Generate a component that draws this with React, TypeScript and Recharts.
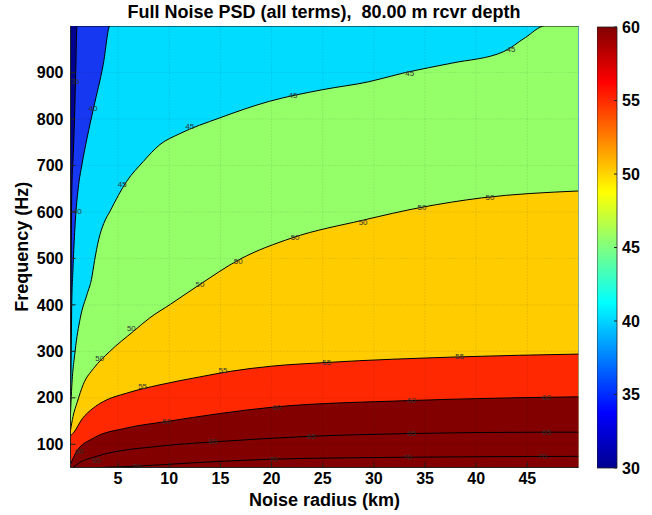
import {
  ComposedChart,
  Area,
  Line,
  Scatter,
  XAxis,
  YAxis,
  CartesianGrid,
  ReferenceLine,
  BarChart,
  Bar,
} from 'recharts'

// axis ticks
const X_TICKS = [5, 10, 15, 20, 25, 30, 35, 40, 45]
const Y_TICKS = [100, 200, 300, 400, 500, 600, 700, 800, 900]
const CB_TICKS = [30, 35, 40, 45, 50, 55, 60]

// contour lines, radius (km) -> frequency (Hz)
const c35 = [
  { x: 0.35, f: 250 }, { x: 0.38, f: 300 }, { x: 0.42, f: 508 }, { x: 0.48, f: 650 },
  { x: 0.62, f: 724 }, { x: 0.78, f: 831 }, { x: 0.88, f: 920 }, { x: 0.98, f: 1000 },
  { x: 50, f: 1000 },
]
const c40 = [
  { x: 0.35, f: 195 }, { x: 0.4, f: 260 }, { x: 0.47, f: 400 }, { x: 0.58, f: 470 },
  { x: 0.65, f: 508 }, { x: 0.82, f: 580 }, { x: 1.1, f: 650 }, { x: 1.47, f: 702 },
  { x: 1.96, f: 758 }, { x: 2.6, f: 823 }, { x: 3.55, f: 917 }, { x: 4.2, f: 1000 },
  { x: 50, f: 1000 },
]
const c45 = [
  { x: 0.35, f: 165 }, { x: 0.45, f: 214 }, { x: 0.8, f: 300 }, { x: 1.3, f: 371 },
  { x: 2.0, f: 425 }, { x: 2.4, f: 455 }, { x: 2.7, f: 495 }, { x: 3.1, f: 540 },
  { x: 3.6, f: 575 }, { x: 4.2, f: 601 }, { x: 5.85, f: 666 }, { x: 7.45, f: 708 },
  { x: 9.1, f: 745 }, { x: 11, f: 768 }, { x: 14.9, f: 802 }, { x: 19.8, f: 838 },
  { x: 25, f: 863 }, { x: 29.5, f: 880 }, { x: 33.1, f: 900 }, { x: 37.6, f: 920 },
  { x: 42.7, f: 945 }, { x: 44.8, f: 975 }, { x: 46.7, f: 1000 }, { x: 50, f: 1000 },
]
const c50 = [
  { x: 0.35, f: 130 }, { x: 0.6, f: 160 }, { x: 1.0, f: 190 }, { x: 1.6, f: 229 },
  { x: 2.6, f: 263 }, { x: 4.2, f: 300 }, { x: 6.5, f: 343 }, { x: 8.1, f: 372 },
  { x: 10.1, f: 401 }, { x: 13, f: 444 }, { x: 16.9, f: 498 }, { x: 22, f: 544 },
  { x: 28.9, f: 582 }, { x: 34.7, f: 610 }, { x: 40.5, f: 630 }, { x: 50, f: 645 },
]
const c55 = [
  { x: 0.35, f: 118 }, { x: 0.62, f: 124 }, { x: 1.5, f: 155 }, { x: 2.58, f: 178 },
  { x: 3.56, f: 192 }, { x: 5.84, f: 210 }, { x: 9.1, f: 228 }, { x: 13, f: 245 },
  { x: 16, f: 257 }, { x: 20, f: 268 }, { x: 25.4, f: 276 }, { x: 38.3, f: 288 },
  { x: 50, f: 294 },
]
const c60 = [
  { x: 0.35, f: 57 }, { x: 0.96, f: 85 }, { x: 2.58, f: 113 }, { x: 5.84, f: 135 },
  { x: 9.75, f: 149 }, { x: 20.2, f: 180 }, { x: 33.5, f: 194 }, { x: 46.6, f: 201 },
  { x: 50, f: 202 },
]
const c65 = [
  { x: 0.6, f: 50 }, { x: 1.0, f: 57 }, { x: 2.9, f: 74 }, { x: 9.1, f: 96 },
  { x: 14.3, f: 105 }, { x: 23.7, f: 117 }, { x: 33.4, f: 123 }, { x: 46.4, f: 126 },
  { x: 50, f: 126 },
]
const c70 = [
  { x: 3.3, f: 50 }, { x: 6.9, f: 53 }, { x: 12.3, f: 60 }, { x: 20.1, f: 68 },
  { x: 33.1, f: 72 }, { x: 50, f: 74 },
]

// inline contour labels
const contourLabels = [
  { x: 0.8, f: 880, t: '35' },
  { x: 2.55, f: 823, t: '40' },
  { x: 1.0, f: 600, t: '40' },
  { x: 5.4, f: 660, t: '45' },
  { x: 12.0, f: 784, t: '45' },
  { x: 22.1, f: 850, t: '45' },
  { x: 33.5, f: 898, t: '45' },
  { x: 43.4, f: 950, t: '45' },
  { x: 3.2, f: 285, t: '50' },
  { x: 6.3, f: 350, t: '50' },
  { x: 13, f: 444, t: '50' },
  { x: 16.75, f: 493, t: '50' },
  { x: 22.3, f: 544, t: '50' },
  { x: 28.95, f: 578, t: '50' },
  { x: 34.7, f: 609, t: '50' },
  { x: 41.35, f: 630, t: '50' },
  { x: 7.4, f: 225, t: '55' },
  { x: 15.25, f: 258, t: '55' },
  { x: 25.4, f: 276, t: '55' },
  { x: 38.4, f: 288, t: '55' },
  { x: 1.2, f: 85, t: '60' },
  { x: 9.75, f: 149, t: '60' },
  { x: 20.5, f: 180, t: '60' },
  { x: 33.7, f: 194, t: '60' },
  { x: 46.9, f: 201, t: '60' },
  { x: 2.9, f: 66, t: '65' },
  { x: 14.3, f: 105, t: '65' },
  { x: 23.9, f: 117, t: '65' },
  { x: 33.7, f: 123, t: '65' },
  { x: 46.9, f: 126, t: '65' },
  { x: 6.8, f: 53, t: '70' },
  { x: 20.2, f: 68, t: '70' },
  { x: 33.3, f: 72, t: '70' },
  { x: 46.5, f: 74, t: '70' },
]

const colorbar = [{ name: 'psd', range: [30, 60] }]

const FILLS = [
  { data: c35, color: '#1538f0' },
  { data: c40, color: '#00dcff' },
  { data: c45, color: '#95ff6a' },
  { data: c50, color: '#ffcc00' },
  { data: c55, color: '#ff2800' },
  { data: c60, color: '#820000' },
]

const FONT = '"Liberation Sans", Arial, Helvetica, sans-serif'
const tickStyle = { fill: '#000', fontSize: 16, fontWeight: 700, fontFamily: FONT }
const titleStyle = { fill: '#000', fontSize: 18, fontWeight: 700 }

const LabelText = (props: any) => (
  <text
    x={props.cx}
    y={props.cy}
    textAnchor="middle"
    dominantBaseline="central"
    fontSize={8}
    fill="#333"
    fontFamily={FONT}
  >
    {props.payload.t}
  </text>
)

export default function App() {
  return (
    <div style={{ position: 'absolute', left: 0, top: 0, width: 652, height: 515, background: '#fff', fontFamily: FONT }}>
      <div
        style={{
          position: 'absolute',
          top: 1,
          left: 0,
          width: 648,
          textAlign: 'center',
          fontSize: 18,
          fontWeight: 700,
          lineHeight: '22px',
          whiteSpace: 'pre',
        }}
      >
        {'Full Noise PSD (all terms),  80.00 m rcvr depth'}
      </div>

      <div style={{ position: 'absolute', left: 0, top: 0 }}>
        <ComposedChart width={652} height={515} margin={{ top: 26, right: 73.5, bottom: 0, left: 0 }}>
          <CartesianGrid fill="#00008f" horizontal={false} vertical={false} />
          <XAxis
            dataKey="x"
            type="number"
            domain={[0.35, 50]}
            ticks={X_TICKS}
            allowDataOverflow
            height={47.5}
            stroke="#222"
            tickSize={-5}
            tickMargin={10}
            tick={tickStyle}
            label={{ value: 'Noise radius (km)', position: 'insideBottom', offset: 9, style: titleStyle }}
          />
          <XAxis
            xAxisId="top"
            orientation="top"
            type="number"
            domain={[0.35, 50]}
            ticks={X_TICKS}
            height={0}
            stroke="#222"
            tickSize={-5}
            tick={false}
          />
          <YAxis
            dataKey="f"
            type="number"
            domain={[50, 1000]}
            ticks={Y_TICKS}
            allowDataOverflow
            width={70.5}
            stroke="#222"
            tickSize={-5}
            tickMargin={12}
            tick={tickStyle}
            label={{ value: 'Frequency (Hz)', angle: -90, position: 'insideLeft', offset: 22, style: { ...titleStyle, textAnchor: 'middle' } }}
          />
          <YAxis
            yAxisId="right"
            orientation="right"
            type="number"
            domain={[50, 1000]}
            ticks={Y_TICKS}
            width={0}
            stroke="#222"
            tickSize={-5}
            tick={false}
          />
          {FILLS.map((s, i) => (
            <Area
              key={i}
              data={s.data}
              dataKey="f"
              type="monotone"
              baseValue="dataMin"
              fill={s.color}
              fillOpacity={1}
              stroke="#000"
              strokeWidth={1}
              dot={false}
              activeDot={false}
              isAnimationActive={false}
            />
          ))}
          <Line data={c65} dataKey="f" type="monotone" stroke="#000" strokeWidth={1} dot={false} activeDot={false} isAnimationActive={false} />
          <Line data={c70} dataKey="f" type="monotone" stroke="#000" strokeWidth={1} dot={false} activeDot={false} isAnimationActive={false} />
          {X_TICKS.map((t) => (
            <ReferenceLine key={'gx' + t} x={t} stroke="#000" strokeOpacity={0.15} strokeDasharray="1 2" />
          ))}
          {Y_TICKS.map((t) => (
            <ReferenceLine key={'gy' + t} y={t} stroke="#000" strokeOpacity={0.15} strokeDasharray="1 2" />
          ))}
          <Scatter data={contourLabels} dataKey="f" shape={LabelText} isAnimationActive={false} />
        </ComposedChart>
      </div>

      <div style={{ position: 'absolute', left: 597, top: 0 }}>
        <BarChart width={55} height={515} data={colorbar} margin={{ top: 27, right: 0, bottom: 47, left: 0 }} barCategoryGap={0}>
          <defs>
            <linearGradient id="jet" x1="0" y1="1" x2="0" y2="0">
              <stop offset="0" stopColor="#00008f" />
              <stop offset="0.125" stopColor="#0000ff" />
              <stop offset="0.375" stopColor="#00ffff" />
              <stop offset="0.625" stopColor="#ffff00" />
              <stop offset="0.875" stopColor="#ff0000" />
              <stop offset="1" stopColor="#800000" />
            </linearGradient>
          </defs>
          <XAxis dataKey="name" hide />
          <YAxis
            orientation="right"
            type="number"
            domain={[30, 60]}
            ticks={CB_TICKS}
            width={35}
            axisLine={false}
            tickSize={-3}
            tickMargin={8}
            stroke="#222"
            tick={tickStyle}
          />
          <Bar dataKey="range" fill="url(#jet)" stroke="#222" strokeWidth={0.8} isAnimationActive={false} />
        </BarChart>
      </div>
    </div>
  )
}
